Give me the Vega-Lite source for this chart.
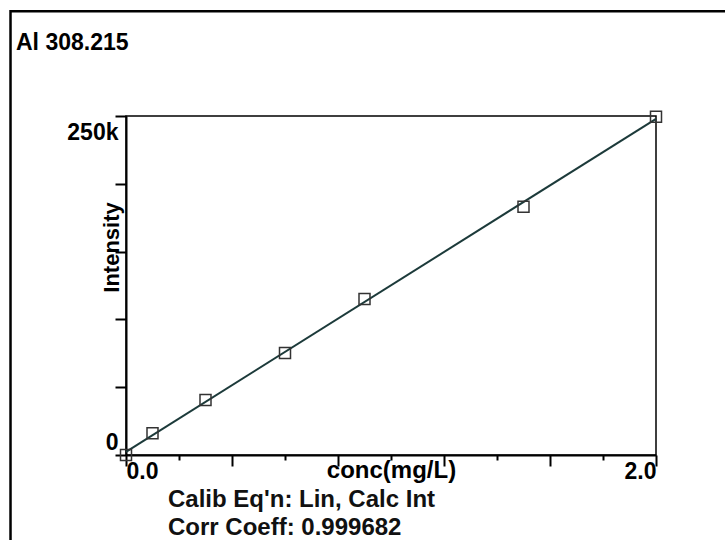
{
  "$schema": "https://vega.github.io/schema/vega-lite/v6.json",
  "width": 530,
  "height": 339,
  "autosize": {"type": "none"},
  "padding": {"left": 126, "top": 116, "right": 69, "bottom": 85},
  "background": "white",
  "config": {
    "font": "Liberation Sans",
    "view": {"stroke": "#000", "strokeWidth": 1.5}
  },
  "datasets": {
    "standards": [
      {"conc": 0.0, "intensity": 0},
      {"conc": 0.1, "intensity": 16000},
      {"conc": 0.3, "intensity": 40600},
      {"conc": 0.6, "intensity": 75200},
      {"conc": 0.9, "intensity": 115000},
      {"conc": 1.5, "intensity": 183100},
      {"conc": 2.0, "intensity": 249500}
    ]
  },
  "data": {"name": "standards"},
  "layer": [
    {
      "data": {"values": [{}]},
      "mark": {"type": "rect", "fillOpacity": 0, "stroke": "#000", "strokeWidth": 2.5, "clip": false},
      "encoding": {
        "x": {"datum": -0.4358},
        "x2": {"datum": 3.0},
        "y": {"datum": 327200},
        "y2": {"datum": -100000}
      }
    },
    {
      "data": {"values": [{}]},
      "mark": {"type": "text", "text": "Al 308.215", "align": "left", "baseline": "alphabetic", "font": "Liberation Sans", "fontSize": 23, "fontWeight": "bold", "color": "#000", "clip": false},
      "encoding": {
        "x": {"datum": -0.4151},
        "y": {"datum": 298700}
      }
    },
    {
      "transform": [{"regression": "intensity", "on": "conc", "method": "linear"}],
      "mark": {"type": "line", "color": "#1c3a3a", "strokeWidth": 2},
      "encoding": {
        "x": {"field": "conc", "type": "quantitative"},
        "y": {"field": "intensity", "type": "quantitative"}
      }
    },
    {
      "mark": {"type": "point", "shape": "square", "size": 121, "filled": false, "stroke": "#333", "strokeWidth": 1.5, "opacity": 1},
      "encoding": {
        "x": {
          "field": "conc",
          "type": "quantitative",
          "scale": {"domain": [0, 2], "nice": false, "zero": false},
          "axis": {
            "values": [0, 0.2, 0.4, 0.6, 0.8, 1.0, 1.2, 1.4, 1.6, 1.8, 2.0],
            "title": "conc(mg/L)",
            "grid": false,
            "domainColor": "#000",
            "domainWidth": 2,
            "tickColor": "#000",
            "tickWidth": 2,
            "tickSize": {"condition": {"test": "abs(datum.value / 0.4 - round(datum.value / 0.4)) < 0.01", "value": 11}, "value": 5},
            "labelExpr": "datum.value == 0 ? '0.0' : datum.value == 2 ? '2.0' : ''",
            "labelFlush": true,
            "labelOverlap": false,
            "labelFont": "Liberation Sans",
            "labelFontSize": 23,
            "labelFontWeight": "bold",
            "labelColor": "#000",
            "labelBaseline": "alphabetic",
            "labelPadding": 12,
            "titleFont": "Liberation Sans",
            "titleFontSize": 24,
            "titleFontWeight": "bold",
            "titleColor": "#000",
            "titleX": 265,
            "titleY": 22.5,
            "titleBaseline": "alphabetic",
            "titleAlign": "center"
          }
        },
        "y": {
          "field": "intensity",
          "type": "quantitative",
          "scale": {"domain": [0, 250000], "nice": false, "zero": false},
          "axis": {
            "values": [0, 25000, 50000, 75000, 100000, 125000, 150000, 175000, 200000, 225000, 250000],
            "title": "Intensity",
            "grid": false,
            "domainColor": "#000",
            "domainWidth": 2,
            "tickColor": "#000",
            "tickWidth": 2,
            "tickSize": {"condition": {"test": "datum.value % 50000 == 0", "value": 11}, "value": 5},
            "labelExpr": "datum.value == 0 ? '0' : datum.value == 250000 ? '250k' : ''",
            "labelFlush": true,
            "labelOverlap": false,
            "labelOffset": {"condition": {"test": "datum.value == 250000", "value": 5}, "value": -1},
            "labelFont": "Liberation Sans",
            "labelFontSize": 23,
            "labelFontWeight": "bold",
            "labelColor": "#000",
            "labelPadding": -3,
            "titleFont": "Liberation Sans",
            "titleFontSize": 22,
            "titleFontWeight": "bold",
            "titleColor": "#000",
            "titleAngle": 270,
            "titleX": -8,
            "titleY": 131,
            "titleBaseline": "alphabetic",
            "titleAlign": "center"
          }
        }
      }
    },
    {
      "data": {"values": [{}]},
      "mark": {
        "type": "text",
        "text": ["Calib Eq'n: Lin, Calc Int", "Corr Coeff: 0.999682"],
        "align": "left",
        "baseline": "alphabetic",
        "lineHeight": 28,
        "font": "Liberation Sans",
        "fontSize": 24,
        "fontWeight": "bold",
        "color": "#111",
        "clip": false
      },
      "encoding": {
        "x": {"datum": 0.1585},
        "y": {"datum": -37980}
      }
    }
  ]
}
